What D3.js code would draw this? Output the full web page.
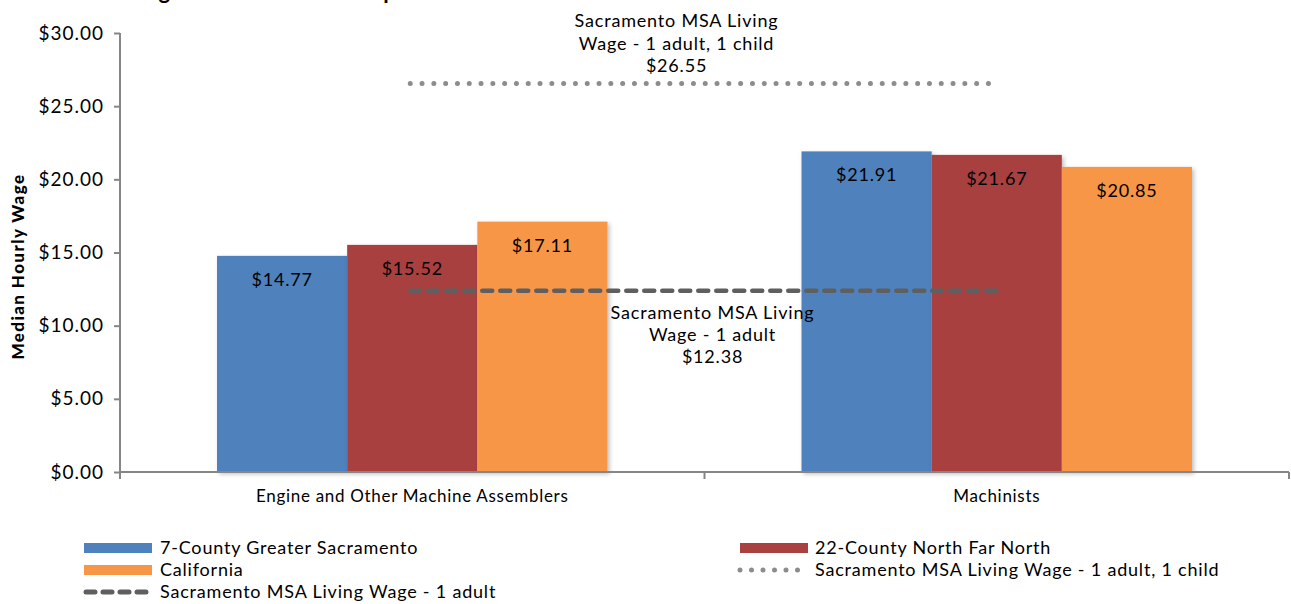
<!DOCTYPE html>
<meta charset="utf-8">
<style>
  body { margin: 0; background: #fff; }
  text { font-family: "Lato", "Open Sans", sans-serif; fill: #000; letter-spacing: 0.8px; }
</style>
<body>
<script src="https://d3js.org/d3.v7.min.js"></script>
<script>
var categories = ["Engine and Other Machine Assemblers", "Machinists"];
var seriesNames = ["7-County Greater Sacramento", "22-County North Far North", "California"];
var seriesColors = ["#4F81BD", "#A8413F", "#F79646"];
var wages = [
  [14.77, 15.52, 17.11],
  [21.91, 21.67, 20.85]
];
var livingWage1Adult = 12.38;
var livingWage1Adult1Child = 26.55;
var yTicks = [0, 5, 10, 15, 20, 25, 30];

var W = 1291, H = 604;
var margin = {top: 33, right: 2, bottom: 132, left: 120};
var width = W - margin.left - margin.right,
    height = H - margin.top - margin.bottom;

var svg = d3.select("body").append("svg")
    .attr("width", W)
    .attr("height", H);

var defs = svg.append("defs");
var f = defs.append("filter").attr("id", "shadow")
    .attr("x", "-5%").attr("y", "-5%").attr("width", "115%").attr("height", "115%");
f.append("feDropShadow").attr("dx", 2).attr("dy", 2).attr("stdDeviation", 2)
    .attr("flood-color", "#000").attr("flood-opacity", 0.25);

// title (cut off at top of picture)
svg.append("text")
    .attr("x", 32).attr("y", -1)
    .style("font-size", "22px").style("font-weight", "bold").style("letter-spacing", "1.6px")
    .text("Median Wage - Machinist Occupations");

var x0 = d3.scaleBand().domain(categories).range([0, width]).paddingInner(0).paddingOuter(0);
var x1 = d3.scaleBand().domain(seriesNames).range([97, x0.bandwidth() - 97]);
var y = d3.scaleLinear().domain([0, 30]).range([height, 0]);

var g = svg.append("g").attr("transform", "translate(" + margin.left + "," + margin.top + ")");

var groups = g.selectAll(".cat")
    .data(categories)
  .enter().append("g")
    .attr("class", "cat")
    .attr("transform", function(d) { return "translate(" + x0(d) + ",0)"; });

groups.selectAll("rect")
    .data(function(d, i) { return wages[i].map(function(v, j) { return {s: seriesNames[j], v: v, c: seriesColors[j]}; }); })
  .enter().append("rect")
    .attr("x", function(d) { return x1(d.s); })
    .attr("y", function(d) { return y(d.v); })
    .attr("width", x1.bandwidth())
    .attr("height", function(d) { return height - y(d.v); })
    .attr("fill", function(d) { return d.c; })
    .attr("filter", "url(#shadow)");

groups.selectAll(".lbl")
    .data(function(d, i) { return wages[i].map(function(v, j) { return {s: seriesNames[j], v: v}; }); })
  .enter().append("text")
    .attr("class", "lbl")
    .attr("x", function(d) { return x1(d.s) + x1.bandwidth() / 2; })
    .attr("y", function(d) { return y(d.v) + 30; })
    .attr("text-anchor", "middle")
    .style("font-size", "18px")
    .text(function(d) { return "$" + d.v.toFixed(2); });

// living wage lines, from center of first category to center of second
var lx0 = x0(categories[0]) + x0.bandwidth() / 2 - 2,
    lx1 = x0(categories[1]) + x0.bandwidth() / 2 - 2;

g.append("line")
    .attr("x1", lx0).attr("x2", lx1 - 3)
    .attr("y1", y(livingWage1Adult1Child)).attr("y2", y(livingWage1Adult1Child))
    .attr("stroke", "#8C8C8C").attr("stroke-width", 5)
    .attr("stroke-linecap", "round").attr("stroke-dasharray", "0 11.8");

g.append("line")
    .attr("x1", lx0).attr("x2", lx1 + 6)
    .attr("y1", y(livingWage1Adult)).attr("y2", y(livingWage1Adult))
    .attr("stroke", "#5F5F5F").attr("stroke-width", 4.5)
    .attr("stroke-linecap", "round").attr("stroke-dasharray", "10 8");

var ann1 = ["Sacramento MSA Living", "Wage - 1 adult, 1 child", "$" + livingWage1Adult1Child.toFixed(2)];
g.append("text")
    .attr("text-anchor", "middle")
    .style("font-size", "18px")
    .selectAll("tspan").data(ann1).enter().append("tspan")
    .attr("x", (lx0 + lx1) / 2 - 26)
    .attr("y", function(d, i) { return y(livingWage1Adult1Child) - 57 + i * 23; })
    .text(function(d) { return d; });

var ann2 = ["Sacramento MSA Living", "Wage - 1 adult", "$" + livingWage1Adult.toFixed(2)];
g.append("text")
    .attr("text-anchor", "middle")
    .style("font-size", "18px")
    .selectAll("tspan").data(ann2).enter().append("tspan")
    .attr("x", (lx0 + lx1) / 2 + 10)
    .attr("y", function(d, i) { return y(livingWage1Adult) + 28 + i * 22; })
    .text(function(d) { return d; });

// axes
var yAxis = d3.axisLeft(y).tickValues(yTicks).tickSize(6).tickPadding(10)
    .tickFormat(function(d) { return "$" + d.toFixed(2); });
var ya = g.append("g").call(yAxis);
ya.select(".domain").attr("stroke", "#868686").attr("stroke-width", 2).attr("d", "M0,0V" + height);
ya.selectAll(".tick line").attr("stroke", "#868686").attr("stroke-width", 2);
ya.selectAll(".tick text").style("font-size", "19px").style("letter-spacing", "1px").attr("fill", "#000");

var xAxis = d3.axisBottom(x0).tickSize(0).tickPadding(18);
var xa = g.append("g").attr("transform", "translate(0," + height + ")").call(xAxis);
xa.select(".domain").attr("stroke", "#868686").attr("stroke-width", 2).attr("d", "M0,0H" + width);
xa.selectAll(".tick text").style("font-size", "17px").style("letter-spacing", "0.7px").attr("fill", "#000");
xa.selectAll(".sep")
    .data([0, x0.bandwidth(), width])
  .enter().append("line")
    .attr("x1", function(d) { return d; }).attr("x2", function(d) { return d; })
    .attr("y1", 0).attr("y2", 7)
    .attr("stroke", "#868686").attr("stroke-width", 2);

svg.append("text")
    .attr("transform", "translate(24," + (margin.top + height / 2 + 14) + ") rotate(-90)")
    .attr("text-anchor", "middle")
    .style("font-size", "17px").style("font-weight", "900").style("letter-spacing", "1.4px")
    .text("Median Hourly Wage");

// legend
var legendItems = [
  {label: seriesNames[0], type: "rect", color: seriesColors[0], x: 84, y: 548},
  {label: seriesNames[1], type: "rect", color: seriesColors[1], x: 740, y: 548},
  {label: seriesNames[2], type: "rect", color: seriesColors[2], x: 84, y: 570},
  {label: "Sacramento MSA Living Wage - 1 adult, 1 child", type: "dot", color: "#8C8C8C", x: 740, y: 570},
  {label: "Sacramento MSA Living Wage - 1 adult", type: "dash", color: "#5F5F5F", x: 84, y: 592}
];
var lg = svg.append("g").selectAll("g").data(legendItems).enter().append("g")
    .attr("transform", function(d) { return "translate(" + d.x + "," + d.y + ")"; });
lg.filter(function(d) { return d.type === "rect"; }).append("rect")
    .attr("x", 0).attr("y", -5).attr("width", 68).attr("height", 10)
    .attr("fill", function(d) { return d.color; });
lg.filter(function(d) { return d.type === "dot"; }).append("line")
    .attr("x1", 0).attr("x2", 66).attr("y1", 0).attr("y2", 0)
    .attr("stroke", function(d) { return d.color; }).attr("stroke-width", 5)
    .attr("stroke-linecap", "round").attr("stroke-dasharray", "0 11.5");
lg.filter(function(d) { return d.type === "dash"; }).append("line")
    .attr("x1", 2).attr("x2", 66).attr("y1", 0).attr("y2", 0)
    .attr("stroke", function(d) { return d.color; }).attr("stroke-width", 5)
    .attr("stroke-linecap", "round").attr("stroke-dasharray", "9 8");
lg.append("text")
    .attr("x", function(d) { return d.x === 84 ? 76 : 75; })
    .attr("y", 0).attr("dy", "0.35em")
    .style("font-size", "18px")
    .text(function(d) { return d.label; });
</script>
</body>
